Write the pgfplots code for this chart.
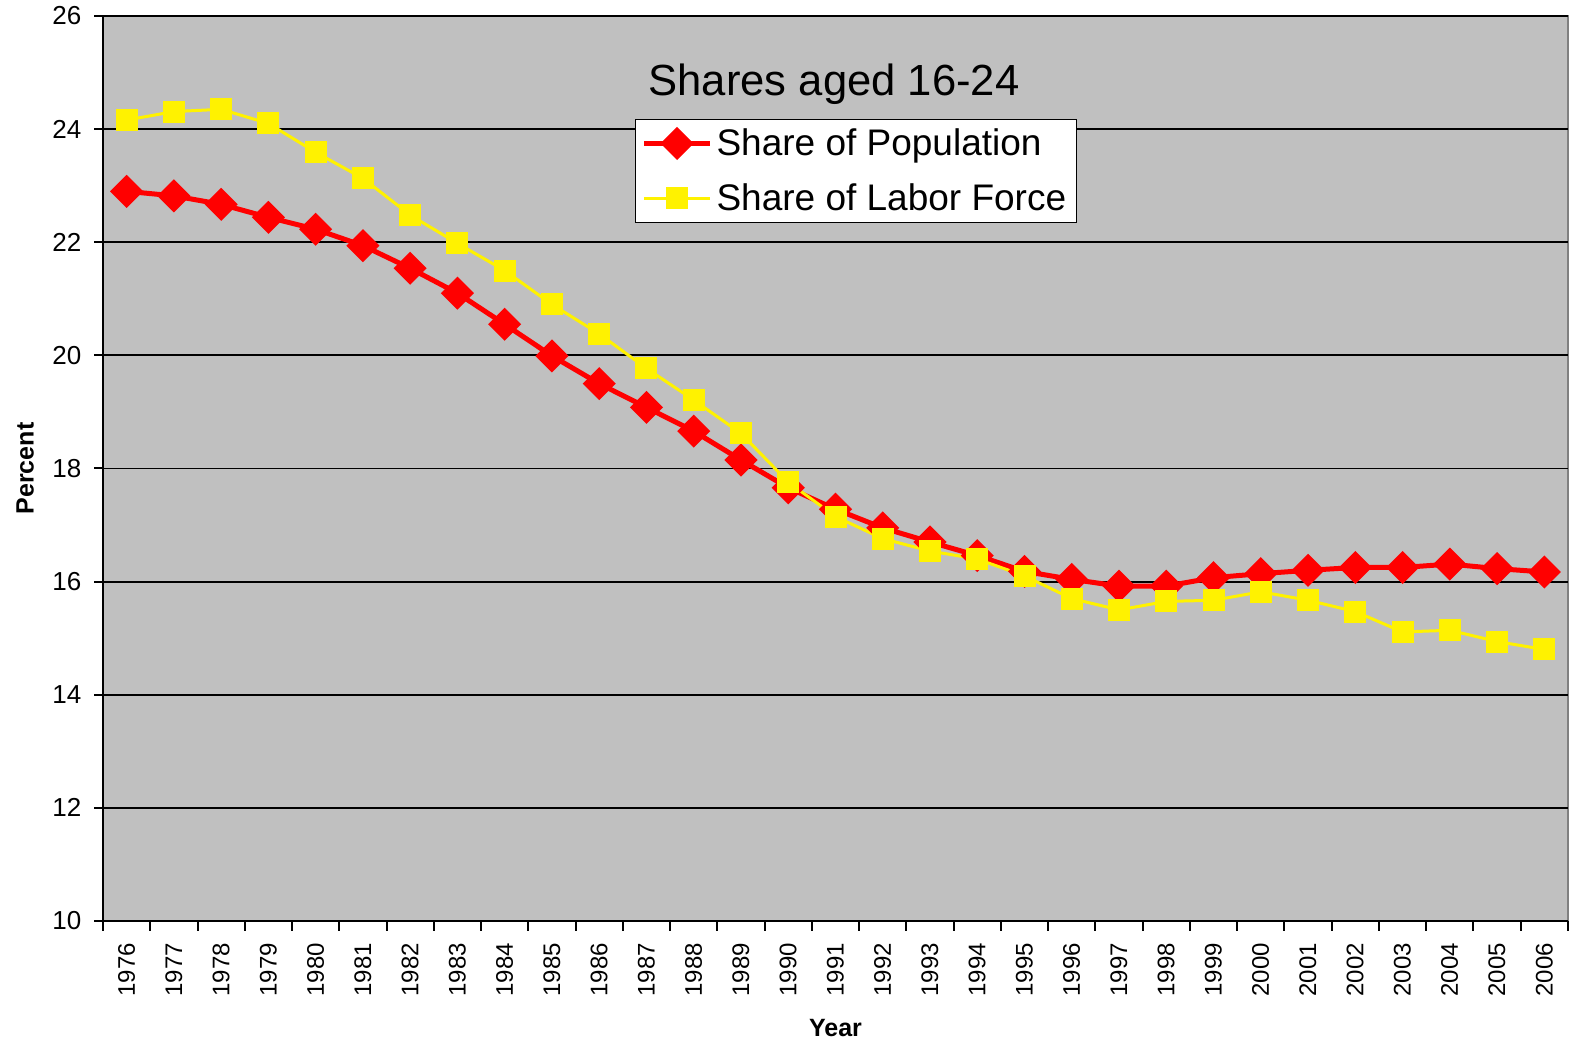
\documentclass[border=0pt]{standalone}
\usepackage{pgfplots}
\pgfplotsset{compat=1.18}
\usepackage{fontspec}
\setmainfont{Liberation Sans}
\definecolor{bggray}{RGB}{192,192,192}
\definecolor{framegray}{RGB}{128,128,128}
\begin{document}
\begin{tikzpicture}
\begin{axis}[
  scale only axis,
  width=732.5pt, height=452.5pt,
  xmin=1975.5, xmax=2006.5,
  ymin=10, ymax=26,
  ytick={10,12,...,26},
  xtick={1976,...,2006},
  minor xtick={1975.5,1976.5,...,2006.5},
  /pgf/number format/1000 sep={},
  /pgf/number format/assume math mode=true,
  axis x line*=bottom, axis y line*=left,
  axis line style={-, black, line width=1pt},
  axis background/.style={fill=bggray, draw=framegray, line width=1pt},
  tick align=outside,
  major tick length=4.5pt,
  minor tick length=5pt,
  tick style={black, line width=1pt},
  every major x tick/.append style={draw=none},
  ymajorgrids,
  major grid style={black, line width=0.9pt},
  xticklabel style={rotate=90, anchor=east, font=\fontsize{12}{14}\selectfont},
  yticklabel style={font=\fontsize{13}{15}\selectfont},
  xticklabel shift=3pt,
  yticklabel shift=2.8pt,
  xlabel={Year}, ylabel={Percent},
  every axis x label/.style={at={(rel axis cs:0.5,-0.118)}, anchor=center, font=\fontsize{12.5}{15}\bfseries},
  every axis y label/.style={at={(rel axis cs:-0.0532,0.5)}, rotate=90, anchor=center, font=\fontsize{12.5}{15}\bfseries},
  legend style={at={(rel axis cs:0.3631,0.8862)}, anchor=north west, draw=black, fill=white, line width=0.6pt,
    font=\fontsize{18.5}{21}\selectfont, row sep=8.5pt, inner xsep=3pt, inner ysep=2.5pt},
  legend cell align=left,
  legend image code/.code={\draw[mark repeat=2,mark phase=2,#1] plot coordinates {(0pt,0pt) (16.5pt,0pt) (33pt,0pt)};},
]
\addplot[red, line width=2.5pt, mark=square*, mark size=4.6pt, mark options={rotate=45, fill=red, draw=none, solid}]
coordinates {
(1976,22.90) (1977,22.82) (1978,22.67) (1979,22.44) (1980,22.23) (1981,21.94)
(1982,21.54) (1983,21.10) (1984,20.55) (1985,19.99) (1986,19.50) (1987,19.08)
(1988,18.66) (1989,18.15) (1990,17.66) (1991,17.28) (1992,16.95) (1993,16.70)
(1994,16.46) (1995,16.18) (1996,16.04) (1997,15.92) (1998,15.92) (1999,16.07)
(2000,16.14) (2001,16.20) (2002,16.25) (2003,16.25) (2004,16.31) (2005,16.23) (2006,16.17)
};
\addlegendentry{Share of Population}
\addplot[yellow, line width=1.5pt, mark=square*, mark size=4.75pt, mark options={fill=yellow, draw=none, solid}]
coordinates {
(1976,24.16) (1977,24.31) (1978,24.35) (1979,24.10) (1980,23.59) (1981,23.13)
(1982,22.48) (1983,21.98) (1984,21.50) (1985,20.90) (1986,20.38) (1987,19.77)
(1988,19.21) (1989,18.62) (1990,17.76) (1991,17.15) (1992,16.76) (1993,16.54)
(1994,16.40) (1995,16.10) (1996,15.70) (1997,15.50) (1998,15.65) (1999,15.67)
(2000,15.82) (2001,15.67) (2002,15.47) (2003,15.11) (2004,15.14) (2005,14.94) (2006,14.80)
};
\addlegendentry{Share of Labor Force}
\node[font=\fontsize{21.8}{25}\selectfont, anchor=base] at (rel axis cs:0.499,0.9116) {Shares aged 16-24};
\end{axis}
\pgfresetboundingbox
\path ([xshift=-51.5pt,yshift=-63.5pt]current axis.south west) rectangle ([xshift=1pt,yshift=8pt]current axis.north east);
\end{tikzpicture}
\end{document}
